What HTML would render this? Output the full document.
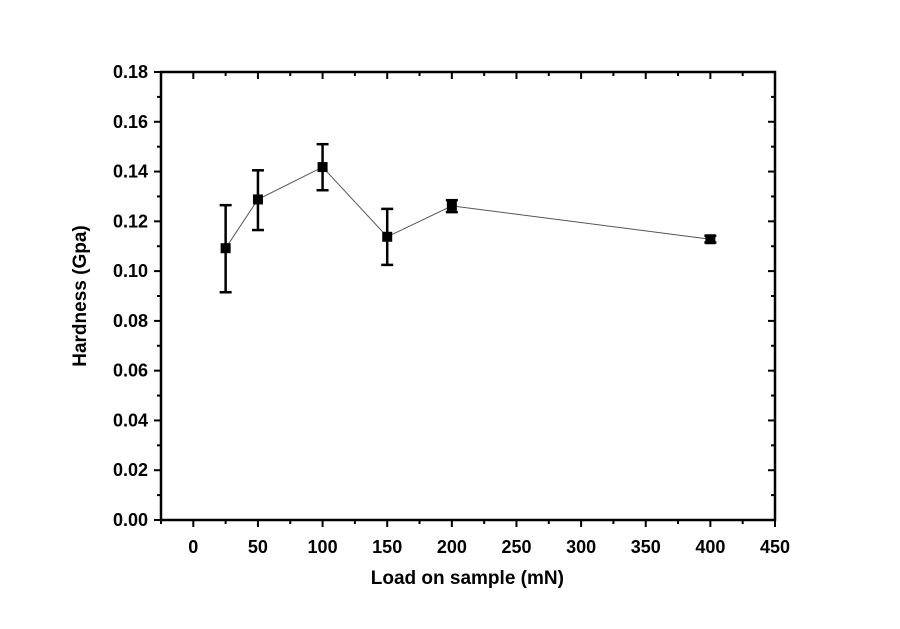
<!DOCTYPE html>
<html><head><meta charset="utf-8"><style>
body{margin:0;background:#fff;}
svg text{font-family:"Liberation Sans",Arial,sans-serif;font-weight:bold;fill:#000;}
</style></head><body>
<svg id="c" width="900" height="624"></svg>
<script>
const loads=[25,50,100,150,200,400];
const hardness=[0.1092,0.1288,0.1418,0.1138,0.1262,0.1128];
const errLow=[0.0915,0.1165,0.1325,0.1025,0.1237,0.1115];
const errHigh=[0.1265,0.1405,0.1510,0.1250,0.1285,0.1142];
const xTicks=[0,50,100,150,200,250,300,350,400,450];
const yTicks=[0,0.02,0.04,0.06,0.08,0.10,0.12,0.14,0.16,0.18];
const L=161,R=775,T=72,B=520,xmin=-25,xmax=450,ymax=0.18;
const X=v=>L+(v-xmin)/(xmax-xmin)*(R-L);
const Y=v=>B-v/ymax*(B-T);
const s=document.getElementById('c');const NS='http://www.w3.org/2000/svg';
function mk(t,a,p){const e=document.createElementNS(NS,t);for(const k in a)e.setAttribute(k,a[k]);(p||s).appendChild(e);return e;}
let e;
e=mk('rect',{x:L,y:T,width:R-L,height:B-T,fill:'none',stroke:'#000','stroke-width':2.5});


for(let v=-25;v<=450;v+=25){const maj=v%50===0;const x=X(v);const l=maj?7:4;
mk('line',{x1:x,x2:x,y1:B,y2:B+l,stroke:'#000','stroke-width':2});
mk('line',{x1:x,x2:x,y1:T,y2:T+l,stroke:'#000','stroke-width':2});}
for(let i=0;i<=18;i++){const v=i*0.01;const y=Y(v);const l=i%2===0?7:4;
mk('line',{x1:L,x2:L-l,y1:y,y2:y,stroke:'#000','stroke-width':2});
mk('line',{x1:R,x2:R-l,y1:y,y2:y,stroke:'#000','stroke-width':2});}
xTicks.forEach(v=>{e=mk('text',{x:X(v),y:B+33,'text-anchor':'middle','font-size':18});e.textContent=v;

});
yTicks.forEach(v=>{e=mk('text',{x:L-13,y:Y(v)+6,'text-anchor':'end','font-size':18});e.textContent=v.toFixed(2);

});
e=mk('text',{x:X(212),y:584,'text-anchor':'middle','font-size':19});e.textContent='Load on sample (mN)';


e=mk('text',{x:86,y:Y(0.09),'text-anchor':'middle','font-size':19,transform:`rotate(-90 86 ${Y(0.09)})`});e.textContent='Hardness (Gpa)';


e=mk('polyline',{points:loads.map((x,i)=>X(x)+','+Y(hardness[i])).join(' '),fill:'none',stroke:'#555','stroke-width':1});


loads.forEach((x,i)=>{const cx=X(x);
const g=mk('g',{});


mk('line',{x1:cx,x2:cx,y1:Y(errLow[i]),y2:Y(errHigh[i]),stroke:'#000','stroke-width':2.5},g);
mk('line',{x1:cx-6,x2:cx+6,y1:Y(errLow[i]),y2:Y(errLow[i]),stroke:'#000','stroke-width':2.5},g);
mk('line',{x1:cx-6,x2:cx+6,y1:Y(errHigh[i]),y2:Y(errHigh[i]),stroke:'#000','stroke-width':2.5},g);
mk('rect',{x:cx-5,y:Y(hardness[i])-5,width:10,height:10,fill:'#000'},g);});
</script>
</body></html>
